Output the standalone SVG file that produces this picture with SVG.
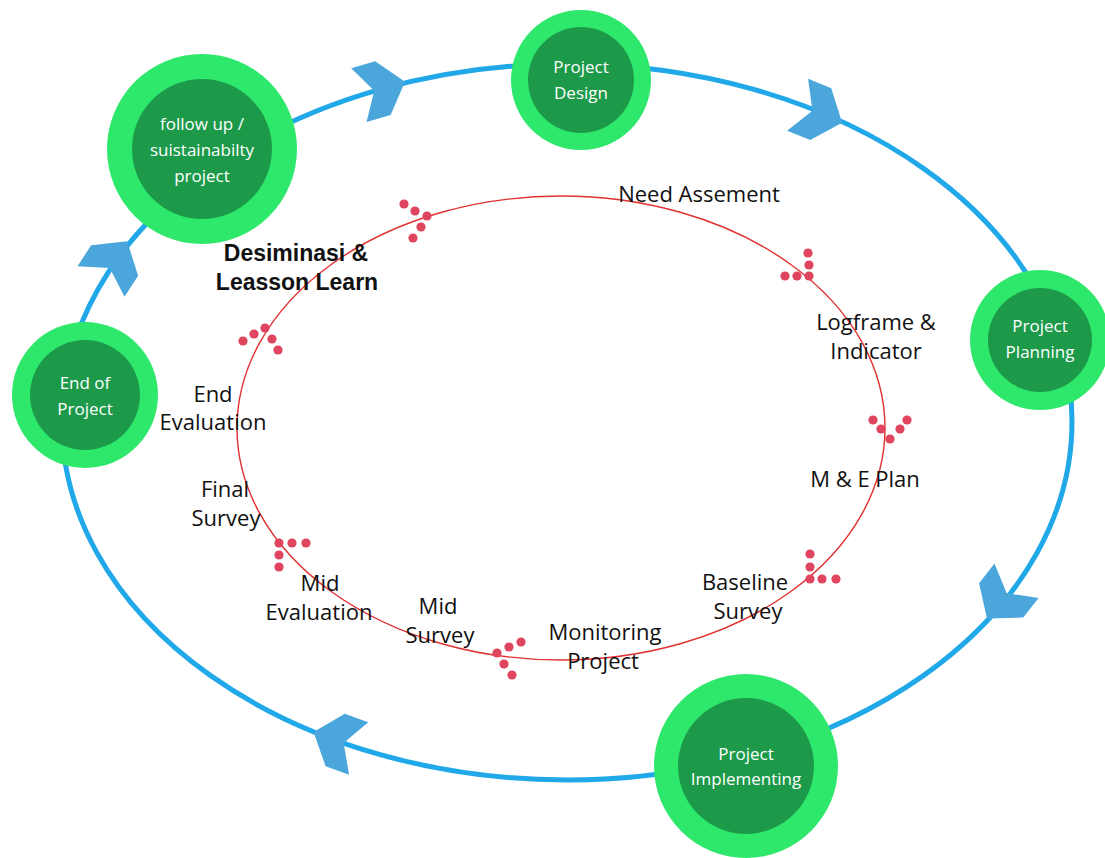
<svg xmlns="http://www.w3.org/2000/svg" xmlns:xlink="http://www.w3.org/1999/xlink" width="1105" height="858" viewBox="0 0 1105 858">
<style>
.outer{fill:#2ee86c}
.inner{fill:#1c9a4a}
.nl{font-family:"Open Sans","DejaVu Sans",sans-serif;font-size:17px;fill:#ffffff;text-anchor:middle}
.sl{font-family:"Open Sans","DejaVu Sans",sans-serif;font-size:22px;fill:#111111;text-anchor:middle}
.bl{font-family:"Liberation Sans",Arial,sans-serif;font-size:23px;font-weight:bold;fill:#111111;text-anchor:middle}
.cyc{fill:none;stroke:#20a8e8;stroke-width:5}
.red{fill:none;stroke:#e0302f;stroke-width:1.4}
.chev{fill:#4ba6dc}
.dot{fill:#e0455f}
</style>
<defs>
<polygon id="chev" class="chev" points="-22,-28 3,-28 26,0 3,28 -22,28 -6,0"/>
<circle id="d" class="dot" r="4.6"/>
</defs>
<rect width="1105" height="858" fill="#ffffff"/>
<g id="connectors">
<ellipse class="cyc" cx="567" cy="422" rx="505" ry="358"/>
<ellipse class="red" cx="561" cy="428" rx="324" ry="232"/>
<use xlink:href="#chev" transform="translate(380,89) rotate(-16)"/>
<use xlink:href="#chev" transform="translate(818,113) rotate(22)"/>
<use xlink:href="#chev" transform="translate(1003,598) rotate(128)"/>
<use xlink:href="#chev" transform="translate(338,741) rotate(200)"/>
<use xlink:href="#chev" transform="translate(113,263) rotate(-57)"/>
<g id="dot-arrows">
<use xlink:href="#d" x="404" y="204"/><use xlink:href="#d" x="415" y="211"/><use xlink:href="#d" x="427" y="216"/><use xlink:href="#d" x="421" y="227"/><use xlink:href="#d" x="413" y="238"/>
<use xlink:href="#d" x="808" y="253"/><use xlink:href="#d" x="809" y="265"/><use xlink:href="#d" x="809" y="276"/><use xlink:href="#d" x="797" y="276"/><use xlink:href="#d" x="785" y="276"/>
<use xlink:href="#d" x="873" y="420"/><use xlink:href="#d" x="881" y="429"/><use xlink:href="#d" x="890" y="439"/><use xlink:href="#d" x="900" y="429"/><use xlink:href="#d" x="907" y="420"/>
<use xlink:href="#d" x="810" y="554"/><use xlink:href="#d" x="810" y="567"/><use xlink:href="#d" x="810" y="579"/><use xlink:href="#d" x="822" y="579"/><use xlink:href="#d" x="836" y="579"/>
<use xlink:href="#d" x="521" y="642"/><use xlink:href="#d" x="509" y="647"/><use xlink:href="#d" x="497" y="653"/><use xlink:href="#d" x="504" y="664"/><use xlink:href="#d" x="512" y="675"/>
<use xlink:href="#d" x="279" y="543"/><use xlink:href="#d" x="292" y="543"/><use xlink:href="#d" x="306" y="543"/><use xlink:href="#d" x="279" y="555"/><use xlink:href="#d" x="279" y="567"/>
<use xlink:href="#d" x="243" y="341"/><use xlink:href="#d" x="254" y="334"/><use xlink:href="#d" x="265" y="328"/><use xlink:href="#d" x="272" y="339"/><use xlink:href="#d" x="278" y="350"/>
</g>
</g>
<g id="node-design">
<circle class="outer" cx="581" cy="80" r="70"/><circle class="inner" cx="581" cy="80" r="53"/>
<text class="nl" x="581" y="73">Project</text><text class="nl" x="581" y="99">Design</text>
</g>
<g id="node-followup">
<circle class="outer" cx="202" cy="149" r="95"/><circle class="inner" cx="202" cy="149" r="70"/>
<text class="nl" x="202" y="130">follow up /</text><text class="nl" x="202" y="156">suistainabilty</text><text class="nl" x="202" y="182">project</text>
</g>
<g id="node-planning">
<circle class="outer" cx="1040" cy="340" r="70"/><circle class="inner" cx="1040" cy="340" r="52"/>
<text class="nl" x="1040" y="332">Project</text><text class="nl" x="1040" y="358">Planning</text>
</g>
<g id="node-end">
<circle class="outer" cx="85" cy="395" r="73"/><circle class="inner" cx="85" cy="395" r="55"/>
<text class="nl" x="85" y="389">End of</text><text class="nl" x="85" y="415">Project</text>
</g>
<g id="node-implementing">
<circle class="outer" cx="746" cy="766" r="92"/><circle class="inner" cx="746" cy="766" r="68"/>
<text class="nl" x="746" y="760">Project</text><text class="nl" x="746" y="785">Implementing</text>
</g>
<g id="stage-need"><text class="sl" x="699" y="202">Need Assement</text></g>
<g id="stage-logframe"><text class="sl" x="876" y="330">Logframe &amp;</text><text class="sl" x="876" y="359">Indicator</text></g>
<g id="stage-me"><text class="sl" x="865" y="487">M &amp; E Plan</text></g>
<g id="stage-baseline"><text class="sl" x="745" y="590">Baseline</text><text class="sl" x="748" y="619">Survey</text></g>
<g id="stage-monitoring"><text class="sl" x="605" y="640">Monitoring</text><text class="sl" x="603" y="669">Project</text></g>
<g id="stage-midsurvey"><text class="sl" x="438" y="614">Mid</text><text class="sl" x="440" y="643">Survey</text></g>
<g id="stage-mideval"><text class="sl" x="320" y="591">Mid</text><text class="sl" x="319" y="620">Evaluation</text></g>
<g id="stage-finalsurvey"><text class="sl" x="225" y="497">Final</text><text class="sl" x="226" y="526">Survey</text></g>
<g id="stage-endeval"><text class="sl" x="213" y="402">End</text><text class="sl" x="213" y="430">Evaluation</text></g>
<g id="stage-desiminasi"><text class="bl" x="296" y="261">Desiminasi &amp;</text><text class="bl" x="297" y="290">Leasson Learn</text></g>
</svg>
